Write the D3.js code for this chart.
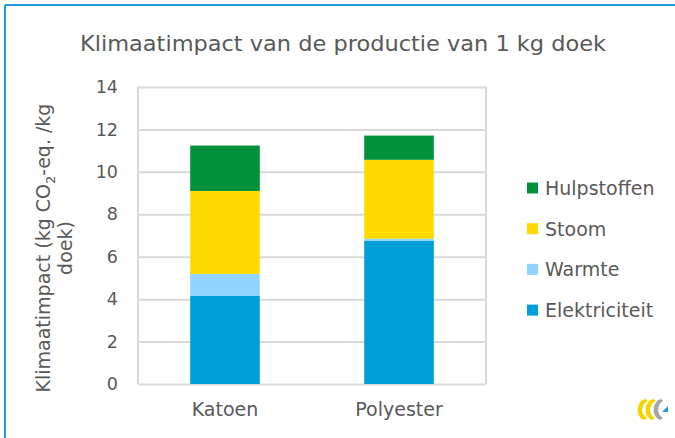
<!DOCTYPE html>
<html>
<head>
<meta charset="utf-8">
<script src="https://cdn.jsdelivr.net/npm/d3@7"></script>
<style>
  body { margin: 0; background: #fff; }
  svg text { font-family: "DejaVu Sans", sans-serif; fill: #595959; }
</style>
</head>
<body>
<svg class="chart" width="675" height="438"></svg>
<script>
const categories = ['Katoen', 'Polyester'];
const seriesNames = ['Elektriciteit', 'Warmte', 'Stoom', 'Hulpstoffen'];
const elektriciteit = [4.15, 6.76];
const warmte = [1.04, 0.09];
const stoom = [3.91, 3.72];
const hulpstoffen = [2.14, 1.14];
const yTicks = [0, 2, 4, 6, 8, 10, 12, 14];
const colors = ['#009FDA', '#91D4FF', '#FFDA00', '#00913A'];

const width = 675, height = 438;
const margin = { top: 87, right: 189, bottom: 54, left: 138 };
const fontFam = '"DejaVu Sans", sans-serif';
const svg = d3.select('.chart');

// border lines (top + left only)
svg.append('line').attr('x1', 5).attr('x2', width).attr('y1', 5).attr('y2', 5)
    .style('stroke', '#1E9BD7').style('stroke-width', 2);
svg.append('line').attr('x1', 5).attr('x2', 5).attr('y1', 5).attr('y2', height)
    .style('stroke', '#1E9BD7').style('stroke-width', 2);

svg.append('text')
    .attr('x', 343).attr('y', 51)
    .attr('text-anchor', 'middle')
    .style('font-size', '22px')
    .attr('textLength', 526)
    .attr('lengthAdjust', 'spacingAndGlyphs')
    .text('Klimaatimpact van de productie van 1 kg doek');

const xscale = d3.scaleBand()
    .domain(categories)
    .range([margin.left, width - margin.right])
    .paddingInner(0.6)
    .paddingOuter(0.3);

const yscale = d3.scaleLinear()
    .domain([0, 14])
    .range([height - margin.bottom, margin.top]);

// gridlines
let grid = svg.append('g').attr('class', 'grid')
    .attr('transform', `translate(${margin.left},0)`)
    .call(d3.axisLeft(yscale).tickValues(yTicks).tickSize(-(width - margin.left - margin.right)).tickFormat(''));
grid.select('.domain').remove();
grid.selectAll('line').style('stroke', '#D9D9D9').style('stroke-width', 2);

// plot area sides
[margin.left, width - margin.right].forEach(x => {
    svg.append('line').attr('x1', x).attr('x2', x)
        .attr('y1', yscale(14)).attr('y2', yscale(0))
        .style('stroke', '#D9D9D9').style('stroke-width', 2);
});

// stacked bars
const table = categories.map((c, i) => ({
    cat: c,
    Elektriciteit: elektriciteit[i],
    Warmte: warmte[i],
    Stoom: stoom[i],
    Hulpstoffen: hulpstoffen[i]
}));
const stacked = d3.stack().keys(seriesNames)(table);

svg.append('g').selectAll('g')
    .data(stacked)
    .join('g')
    .style('fill', (d, i) => colors[i])
    .selectAll('rect')
    .data(d => d)
    .join('rect')
    .attr('x', d => xscale(d.data.cat))
    .attr('width', xscale.bandwidth())
    .attr('y', d => yscale(d[1]))
    .attr('height', d => yscale(d[0]) - yscale(d[1]));

// y axis labels
let yAxis = svg.append('g')
    .attr('transform', `translate(${margin.left},0)`)
    .call(d3.axisLeft(yscale).tickValues(yTicks).tickSize(0).tickPadding(20));
yAxis.select('.domain').remove();
yAxis.selectAll('text').style('font-size', '17.5px').style('fill', '#595959')
    .style('font-family', fontFam);

// x axis labels
let xAxis = svg.append('g')
    .attr('transform', `translate(0,${height - margin.bottom})`)
    .call(d3.axisBottom(xscale).tickSize(0).tickPadding(19));
xAxis.select('.domain').remove();
xAxis.selectAll('text').style('font-size', '19px').style('fill', '#595959')
    .style('font-family', fontFam);

// y axis title
let ytitle = svg.append('text')
    .attr('transform', 'translate(50,248)rotate(-90)')
    .attr('text-anchor', 'middle')
    .style('font-size', '19px');
ytitle.append('tspan').attr('x', 0).attr('dy', 0).text('Klimaatimpact (kg CO');
ytitle.append('tspan').attr('dy', 5).style('font-size', '13px').text('2');
ytitle.append('tspan').attr('dy', -5).text('-eq. /kg');
ytitle.append('tspan').attr('x', 0).attr('dy', 22).text('doek)');

// legend, top-down in reverse stack order
const legendOrder = seriesNames.slice().reverse();
let legend = svg.append('g').selectAll('g')
    .data(legendOrder)
    .join('g')
    .attr('transform', (d, i) => `translate(527,${188 + i * 40.7})`);
legend.append('rect')
    .attr('x', 0).attr('y', -5.5).attr('width', 11).attr('height', 11)
    .style('fill', d => colors[seriesNames.indexOf(d)]);
legend.append('text')
    .attr('x', 18).attr('y', 7)
    .style('font-size', '19px')
    .text(d => d);

// small logo in the corner
let logo = svg.append('g').attr('transform', 'translate(636,398)');
logo.append('path').attr('d', 'M9,1 C0,3 -1,19 8,22 L11,20 C4,16 5,6 12,3 Z').style('fill', '#F2D500');
logo.append('path').attr('d', 'M17,1 C8,3 7,19 16,22 L19,20 C12,16 13,6 20,3 Z').style('fill', '#F2D500');
logo.append('path').attr('d', 'M25,1 C16,3 15,19 24,22 L27,20 C20,16 21,6 27,3 Z').style('fill', '#A6A6A6');
logo.append('path').attr('d', 'M26,14 L32,8 L32,14 Z').style('fill', '#1E9BD7');
</script>
</body>
</html>
